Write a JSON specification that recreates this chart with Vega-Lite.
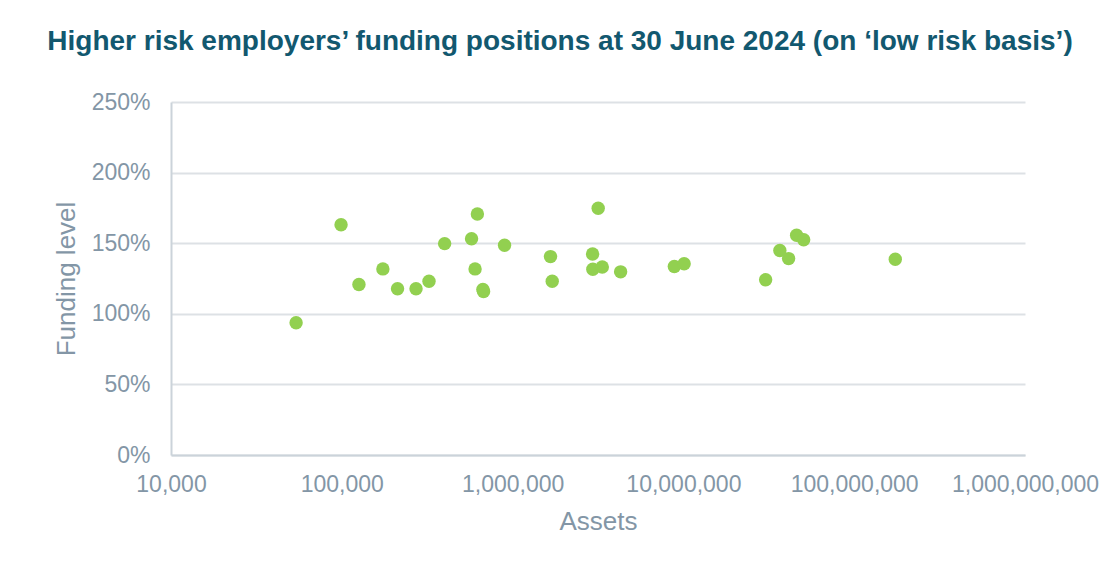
{
  "$schema": "https://vega.github.io/schema/vega-lite/v6.json",
  "autosize": "none",
  "width": 854,
  "height": 353,
  "padding": {"left": 171, "top": 102, "right": 82, "bottom": 127},
  "background": "white",
  "title": {
    "text": "Higher risk employers’ funding positions at 30 June 2024 (on ‘low risk basis’)",
    "anchor": "middle",
    "frame": "group",
    "dx": -38,
    "offset": 13,
    "baseline": "alphabetic",
    "font": "Liberation Sans",
    "fontSize": 28,
    "fontWeight": "bold",
    "color": "#12586f"
  },
  "config": {
    "view": {"stroke": null},
    "font": "Liberation Sans"
  },
  "data": {
    "values": [
      {"assets": 54000, "funding": 0.937},
      {"assets": 99000, "funding": 1.631},
      {"assets": 126000, "funding": 1.208},
      {"assets": 174000, "funding": 1.318},
      {"assets": 212000, "funding": 1.177},
      {"assets": 272000, "funding": 1.177},
      {"assets": 324000, "funding": 1.231},
      {"assets": 400000, "funding": 1.497},
      {"assets": 575000, "funding": 1.532},
      {"assets": 622000, "funding": 1.707},
      {"assets": 603000, "funding": 1.318},
      {"assets": 676000, "funding": 1.158},
      {"assets": 670000, "funding": 1.172},
      {"assets": 897000, "funding": 1.485},
      {"assets": 1667000, "funding": 1.405},
      {"assets": 1706000, "funding": 1.231},
      {"assets": 3170000, "funding": 1.747},
      {"assets": 2940000, "funding": 1.424},
      {"assets": 2950000, "funding": 1.316},
      {"assets": 3350000, "funding": 1.332},
      {"assets": 4290000, "funding": 1.297},
      {"assets": 8850000, "funding": 1.335},
      {"assets": 10100000, "funding": 1.354},
      {"assets": 30300000, "funding": 1.241},
      {"assets": 36700000, "funding": 1.448},
      {"assets": 41300000, "funding": 1.391},
      {"assets": 46000000, "funding": 1.556},
      {"assets": 50600000, "funding": 1.525},
      {"assets": 174000000, "funding": 1.386}
    ]
  },
  "mark": {"type": "point", "filled": true, "opacity": 1, "size": 180, "color": "#92d050"},
  "encoding": {
    "x": {
      "field": "assets",
      "type": "quantitative",
      "scale": {"type": "log", "domain": [10000, 1000000000]},
      "axis": {
        "title": "Assets",
        "values": [10000, 100000, 1000000, 10000000, 100000000, 1000000000],
        "format": ",",
        "grid": false,
        "ticks": false,
        "domainColor": "#cbd3da",
        "domainWidth": 2,
        "labelFont": "Liberation Sans",
        "labelFontSize": 23,
        "labelColor": "#8396a6",
        "labelPadding": 18,
        "labelOverlap": false,
        "labelFlush": false,
        "titleFont": "Liberation Sans",
        "titleFontSize": 26,
        "titleFontWeight": "normal",
        "titleColor": "#8396a6",
        "titlePadding": 12
      }
    },
    "y": {
      "field": "funding",
      "type": "quantitative",
      "scale": {"domain": [0, 2.5]},
      "axis": {
        "title": "Funding level",
        "values": [0, 0.5, 1, 1.5, 2, 2.5],
        "format": ".0%",
        "grid": true,
        "gridColor": "#dde1e5",
        "gridWidth": 2,
        "ticks": false,
        "domainColor": "#cbd3da",
        "domainWidth": 2,
        "labelFont": "Liberation Sans",
        "labelFontSize": 23,
        "labelColor": "#8396a6",
        "labelPadding": 21,
        "titleFont": "Liberation Sans",
        "titleFontSize": 26,
        "titleFontWeight": "normal",
        "titleColor": "#8396a6",
        "titlePadding": 12
      }
    }
  }
}
